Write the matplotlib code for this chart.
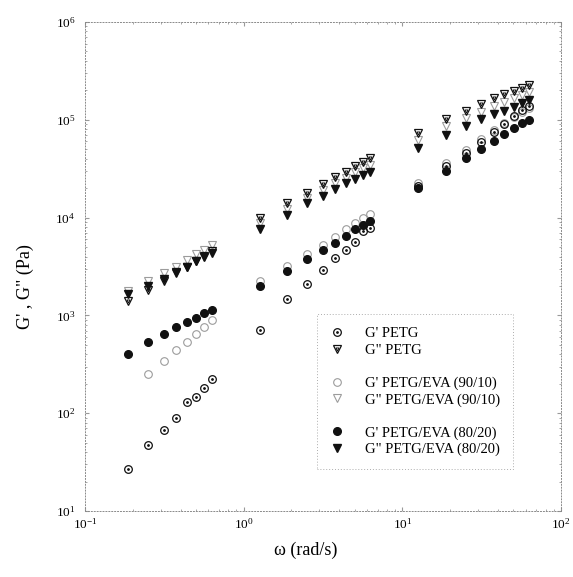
#!/usr/bin/env python
#
# Storage (G') and loss (G") modulus vs angular frequency for PETG and
# the PETG/EVA blends, log-log, scanned-paper look.
#

import numpy as np
import matplotlib
matplotlib.use("Agg")
import matplotlib.pyplot as plt
from matplotlib.lines import Line2D

nan = np.nan

# angular frequency (rad/s), three sweeps
omega = [0.188, 0.251, 0.314, 0.377, 0.440, 0.503, 0.565, 0.628,
         1.26, 1.88, 2.51, 3.14, 3.77, 4.40, 5.03, 5.65, 6.28,
         12.6, 18.8, 25.1, 31.4, 37.7, 44.0, 50.3, 56.5, 62.8]

# moduli in Pa
gp_petg = [27.1, 47.3, 67.3, 88.7, 131, 145, 182, 222,
           709, 1472, 2080, 2912, 3890, 4663, 5670, 7295, 7830,
           21040, 33700, 45760, 59310, 75060, 90600, 109400, 126000, 138400]
gpp_petg = [1404, 1818, 2247, 2713, 3125, 3599, 4050, 4555,
            9906, 14105, 17973, 22060, 25830, 29460, 33700, 37280, 40390,
            72780, 101200, 123900, 145000, 165900, 182300, 197000, 211500, 226900]
gp_90 = [nan, 252, 342, 443, 538, 645, 770, 897,
         2247, 3223, 4244, 5246, 6378, 7594, 8744, 9835, 10806,
         22430, 35920, 49110, 63180, 78650, 92100, 107600, 121000, 131100]
gpp_90 = [1776, 2247, 2713, 3125, 3685, 4244, 4718, 5246,
          8807, 12240, 16050, 19150, 22590, 25700, 29260, 32150, 34500,
          62170, 86440, 103600, 121000, 138400, 153100, 169000, 179300, 192400]
gp_80 = [403, 531, 645, 755, 850, 947, 1051, 1136,
         2012, 2865, 3746, 4630, 5538, 6485, 7594, 8342, 9297,
         19930, 30170, 40390, 50270, 60720, 71570, 81870, 92100, 99540]
gpp_80 = [1655, 1998, 2356, 2779, 3148, 3599, 3955, 4377,
          7594, 10630, 14005, 16630, 19470, 22430, 24810, 27270, 29460,
          51120, 69910, 86440, 101200, 114600, 123900, 136100, 147500, 159400]

labels = ["G' PETG", 'G" PETG', ' ',
          "G' PETG/EVA (90/10)", 'G" PETG/EVA (90/10)', ' ',
          "G' PETG/EVA (80/20)", 'G" PETG/EVA (80/20)']


def main():
  plt.rcParams['font.family'] = ['Liberation Serif', 'DejaVu Serif']
  plt.rcParams['mathtext.fontset'] = 'stix'

  fig = plt.figure(figsize=(5.73, 5.77), dpi=100)
  ax = fig.add_axes([85/573, 1 - 511/577, 476/573, 489/577])
  ax.set_xscale('log')
  ax.set_yscale('log')

  ink = '#111111'
  faint = '#9c9c9c'
  ms = 5.5

  # faint open markers first, filled ones end up on top
  h3 = ax.plot(omega, gp_90, 'o', ms=ms, mfc='none', mec=faint, mew=0.8)[0]
  h4 = ax.plot(omega, gpp_90, 'v', ms=ms, mfc='none', mec=faint, mew=0.8)[0]

  h1 = ax.plot(omega, gp_petg, 'o', ms=ms, mfc='none', mec=ink, mew=0.9)[0]
  h1d = ax.plot(omega, gp_petg, '.', ms=2, color=ink)[0]
  h2 = ax.plot(omega, gpp_petg, 'v', ms=ms + 0.5, mfc='none', mec=ink, mew=0.9)[0]
  h2d = ax.plot(omega, gpp_petg, 'v', ms=2.2, mfc='none', mec=ink, mew=0.7)[0]

  h5 = ax.plot(omega, gp_80, 'o', ms=ms, color=ink, mec=ink)[0]
  h6 = ax.plot(omega, gpp_80, 'v', ms=ms + 0.5, color=ink, mec=ink)[0]

  ax.set_xlim(0.1, 100)
  ax.set_ylim(10, 1e6)

  for s in ax.spines.values():
    s.set_linestyle((0, (1, 2)))
    s.set_color('#8a8a8a')
    s.set_linewidth(0.7)

  ax.tick_params(which='both', direction='in', color='#999999', top=True, right=True, labelsize=9.5)
  ax.tick_params(which='major', length=3)
  ax.tick_params(which='minor', length=1.5)
  ax.tick_params(axis='x', pad=4)
  ax.tick_params(axis='y', pad=7)

  ax.set_xlabel('ω (rad/s)', fontsize=13)
  ax.xaxis.set_label_coords((306 - 85) / 476, -(542 - 511) / 489)
  ax.set_ylabel('G\' , G" (Pa)', fontsize=13)
  ax.yaxis.set_label_coords((34 - 85) / 476, (511 - 287) / 489)

  blank = Line2D([], [], linestyle='none', marker='none')
  handles = [(h1, h1d), (h2, h2d), blank, h3, h4, blank, h5, h6]
  leg = ax.legend(handles, labels, loc='upper left',
                  bbox_to_anchor=(316.7/573, 1 - 314/577), bbox_transform=fig.transFigure,
                  fontsize=10.5, frameon=True, fancybox=False, edgecolor='#999999',
                  borderpad=0.9, handlelength=1.0, handletextpad=1.4,
                  labelspacing=0.22, borderaxespad=0, numpoints=1)
  leg.get_frame().set_linestyle((0, (1, 2)))
  leg.get_frame().set_linewidth(0.7)

  fig.savefig('out.png', dpi=100)


if __name__ == "__main__":
  main()
